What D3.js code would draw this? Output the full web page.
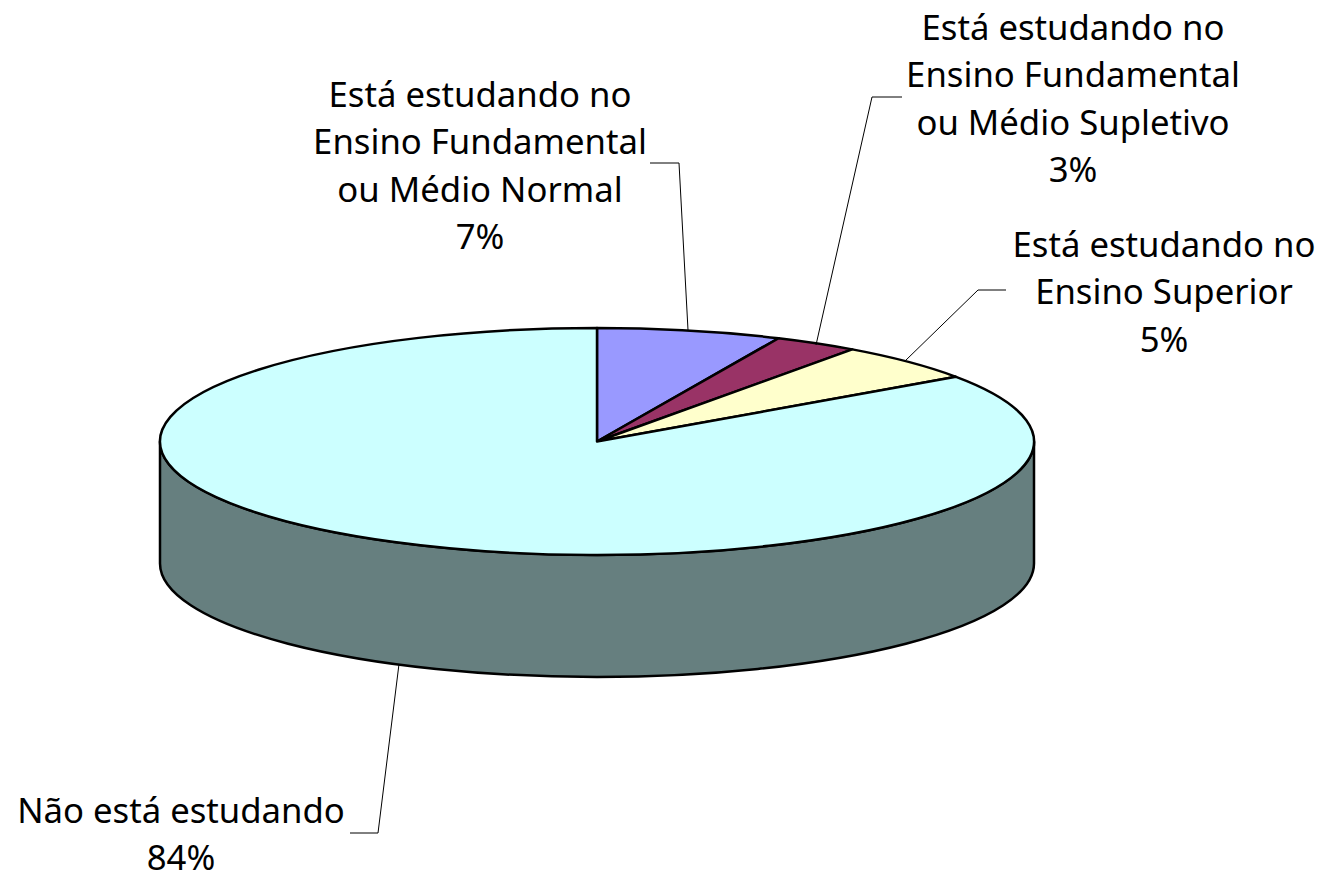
<!DOCTYPE html>
<html>
<head>
<meta charset="utf-8">
<script src="https://cdn.jsdelivr.net/npm/d3@7"></script>
<style>
  html, body { margin: 0; background: #fff; }
  svg { display: block; }
  text { font-family: "Noto Sans", sans-serif; font-size: 34.7px; fill: #000; }
</style>
</head>
<body>
<script>
// estimated from the slice edges, they round to the printed labels
const shares = [6.8, 3.1, 5.4, 84.4]
const percentLabels = ['7%', '3%', '5%', '84%']
const categoryLines = [
  ['Está estudando no', 'Ensino Fundamental', 'ou Médio Normal'],
  ['Está estudando no', 'Ensino Fundamental', 'ou Médio Supletivo'],
  ['Está estudando no', 'Ensino Superior'],
  ['Não está estudando']
]
const sliceColors = ['#9999ff', '#993366', '#ffffcc', '#ccffff']
const wallColor = '#667f7f'

const width = 1326, height = 876
const cx = 597, cy = 441.5, rx = 437, ry = 113.5, depth = 122

const svg = d3.select('body').append('svg')
  .attr('width', width)
  .attr('height', height)

const pie = d3.pie().sort(null)
const slices = pie(shares)

// SIDE WALL
const left = [cx - rx, cy], right = [cx + rx, cy]
svg.append('path')
  .attr('d', `M${left} L${left[0]},${left[1] + depth}
    A${rx},${ry} 0 0 0 ${right[0]},${right[1] + depth}
    L${right} A${rx},${ry} 0 0 1 ${left} Z`)
  .attr('fill', wallColor)
  .attr('stroke', '#000')
  .attr('stroke-width', 2.5)

// TOP OF THE PIE
const arc = d3.arc().innerRadius(0).outerRadius(rx)
svg.append('g')
  .attr('transform', `translate(${cx},${cy}) scale(1,${ry / rx})`)
  .selectAll('path')
  .data(slices)
  .enter()
  .append('path')
  .attr('d', arc)
  .attr('fill', (d, i) => sliceColors[i])
  .attr('stroke', '#000')
  .attr('stroke-width', 2.5)
  .attr('stroke-linejoin', 'round')
  .attr('vector-effect', 'non-scaling-stroke')

// LEADER LINES
const leaders = [
  { start: [688, 330], elbow: [679, 163], end: [650, 163] },
  { start: [816, 345], elbow: [872, 97], end: [902, 97] },
  { start: [905, 361], elbow: [978, 290], end: [1006, 290] },
  { start: [399, 664], elbow: [378, 833], end: [350, 833] }
]
svg.append('g')
  .selectAll('path')
  .data(leaders)
  .enter()
  .append('path')
  .attr('d', d => d3.line()([d.start, d.elbow, d.end]))
  .attr('fill', 'none')
  .attr('stroke', '#000')
  .attr('stroke-width', 1)

// LABELS
const labelAnchors = [[480, 107], [1073, 40], [1164, 257], [181, 823]]
const lineHeight = 47.4
categoryLines.forEach((lines, i) => {
  const t = svg.append('text')
    .attr('text-anchor', 'middle')
    .attr('x', labelAnchors[i][0])
    .attr('y', labelAnchors[i][1])
  lines.concat(percentLabels[i]).forEach((line, j) => {
    t.append('tspan')
      .attr('x', labelAnchors[i][0])
      .attr('dy', j ? lineHeight : 0)
      .text(line)
  })
})
</script>
</body>
</html>
